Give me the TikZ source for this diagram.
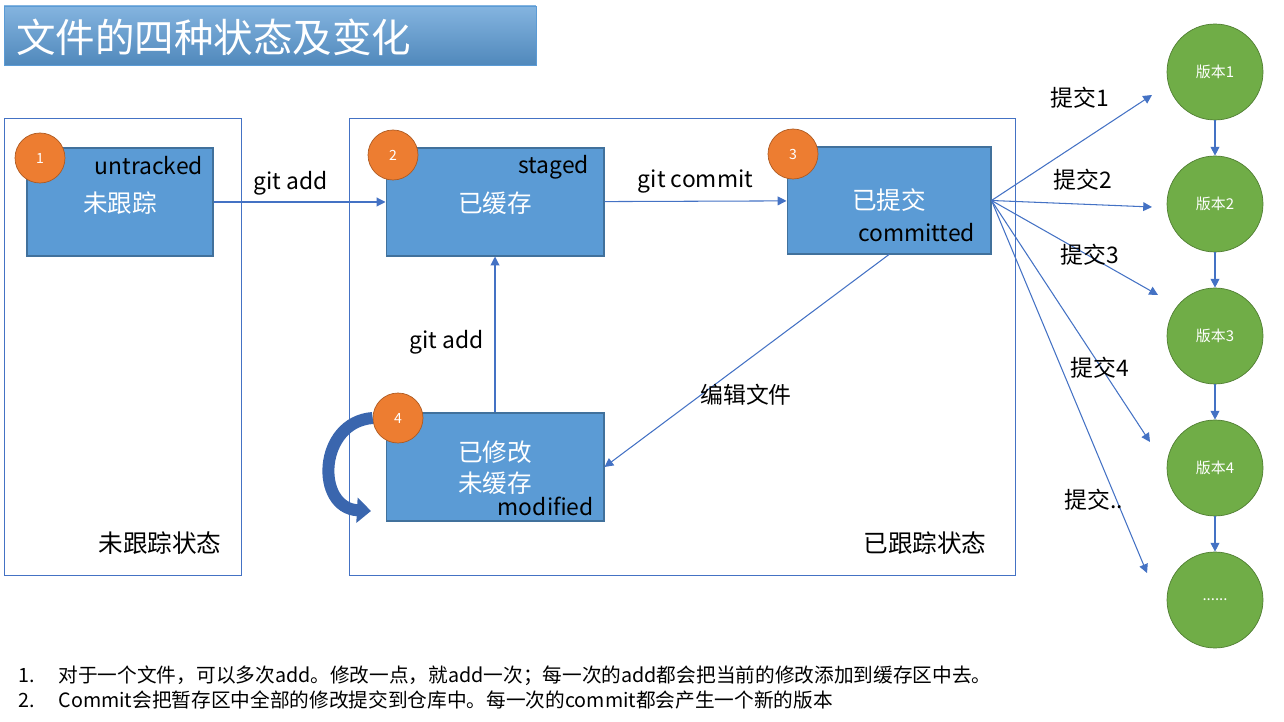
\documentclass[tikz,border=0pt]{standalone}
\usepackage{fontspec}
\setmainfont{Noto Sans CJK SC}
\usetikzlibrary{arrows.meta}
\definecolor{boxblue}{HTML}{5B9BD5}
\definecolor{boxedge}{HTML}{41719C}
\definecolor{lineblue}{HTML}{4472C4}
\definecolor{dotorange}{HTML}{ED7D31}
\definecolor{dotedge}{HTML}{AE5A21}
\definecolor{vergreen}{HTML}{70AD47}
\definecolor{veredge}{HTML}{507E32}
\definecolor{loopblue}{HTML}{3A66AE}
\newcommand{\fs}[1]{\fontsize{#1}{1.2\dimexpr#1\relax}\selectfont}

\begin{document}
\begin{tikzpicture}[x=0.02cm, y=-0.02cm,
    statebox/.style={rectangle, draw=boxedge, fill=boxblue, line width=0.6pt, inner sep=0pt, minimum height=2.16cm},
    numdot/.style={circle, draw=dotedge, fill=dotorange, text=white, minimum size=1.0cm, inner sep=0pt, font=\fs{8pt}},
    verdot/.style={circle, draw=veredge, fill=vergreen, text=white, minimum size=1.92cm, inner sep=0pt, font=\fs{8.5pt}},
    frame/.style={draw=lineblue, line width=0.5pt},
    flow/.style={-{Triangle[length=5pt,width=5pt]}, draw=lineblue, line width=0.6pt},
    tag/.style={font=\fs{13pt}},
    bigtext/.style={text=white, font=\fs{14pt}, align=center}]
    \useasboundingbox (0,0) rectangle (1284,722);

    % 标题
    \node[rectangle, draw=boxblue, top color=boxblue!75!white, bottom color=boxblue!88!black, minimum width=10.64cm, minimum height=1.18cm] (title) at (270,35.5) {};
    \node[anchor=west, text=white, font=\fs{22.5pt}] (titletext) at (10,37) {文件的四种状态及变化};

    % 区域
    \draw[frame] (4,118) rectangle (241,575);
    \draw[frame] (349,118) rectangle (1015,575);
    \node[font=\fs{14pt}] (untrackedarea) at (160,543) {未跟踪状态};
    \node[font=\fs{14pt}] (trackedarea) at (925,543) {已跟踪状态};

    % 状态
    \node[statebox, minimum width=3.72cm] (untracked) at (120,202) {};
    \node[statebox, minimum width=4.36cm] (staged) at (495,202) {};
    \node[statebox, minimum width=4.08cm, minimum height=2.14cm] (committed) at (889,200.5) {};
    \node[statebox, minimum width=4.36cm] (modified) at (495,467) {};

    \node[bigtext] at (120,203) {未跟踪};
    \node[tag, anchor=east] at (209,166) {untracked};
    \node[bigtext] at (495,203) {已缓存};
    \node[tag, anchor=east] at (595,167) {staged};
    \node[bigtext] at (889,200) {已提交};
    \node[tag, anchor=east] at (981,233) {committed};
    \node[bigtext] at (495,468) {已修改\\[1pt]未缓存};
    \node[tag, anchor=east] at (600,506) {modified};

    \node[numdot] (n1) at (40,158) {1};
    \node[numdot] (n2) at (393,155) {2};
    \node[numdot] (n3) at (793,154) {3};
    \node[numdot] (n4) at (398,418) {4};

    % 箭头
    \draw[flow] (untracked) -- node[tag, above=0pt, xshift=-5pt] {git add} (staged);
    \draw[flow] (staged) -- node[tag, above=1pt] {git commit} (committed);
    \draw[flow] (modified) -- node[tag, left=3pt, pos=0.45] {git add} (staged);
    \draw[flow] (committed.south) -- (modified.east);
    \node[tag] (edit) at (746,395) {编辑文件};

    \coordinate (loopend) at (371,511);
    \draw[loopblue, line width=0.24cm, -{Triangle[length=8pt,width=14pt]}] (n4.west) .. controls (318,422) and (315,508) .. (loopend);

    % 版本
    \foreach \i/\y in {1/72, 2/204, 3/336, 4/468}
        \node[verdot] (v\i) at (1215,\y) {版本\i};
    \node[verdot] (v5) at (1215,600) {......};
    \foreach \i/\j in {1/2, 2/3, 3/4, 4/5}
        \draw[flow] (v\i) -- (v\j);

    \coordinate (c1) at (1152,95);
    \coordinate (c2) at (1152,207);
    \coordinate (c3) at (1158,295);
    \coordinate (c4) at (1150,442);
    \coordinate (c5) at (1147,573);
    \foreach \i in {1,2,3,4,5}
        \draw[flow] (committed.east) -- (c\i);
    \node[tag] at (1080,98) {提交1};
    \node[tag] at (1083,180) {提交2};
    \node[tag] at (1090,255) {提交3};
    \node[tag] at (1100,368) {提交4};
    \node[tag] at (1094,500) {提交..};

    % 说明
    \node[anchor=west, font=\fs{11.2pt}] (note1) at (12,676) {\makebox[23pt][l]{1.}对于一个文件，可以多次add。修改一点，就add一次；每一次的add都会把当前的修改添加到缓存区中去。};
    \node[anchor=west, font=\fs{11.2pt}] (note2) at (12,700) {\makebox[23pt][l]{2.}Commit会把暂存区中全部的修改提交到仓库中。每一次的commit都会产生一个新的版本};
\end{tikzpicture}
\end{document}
